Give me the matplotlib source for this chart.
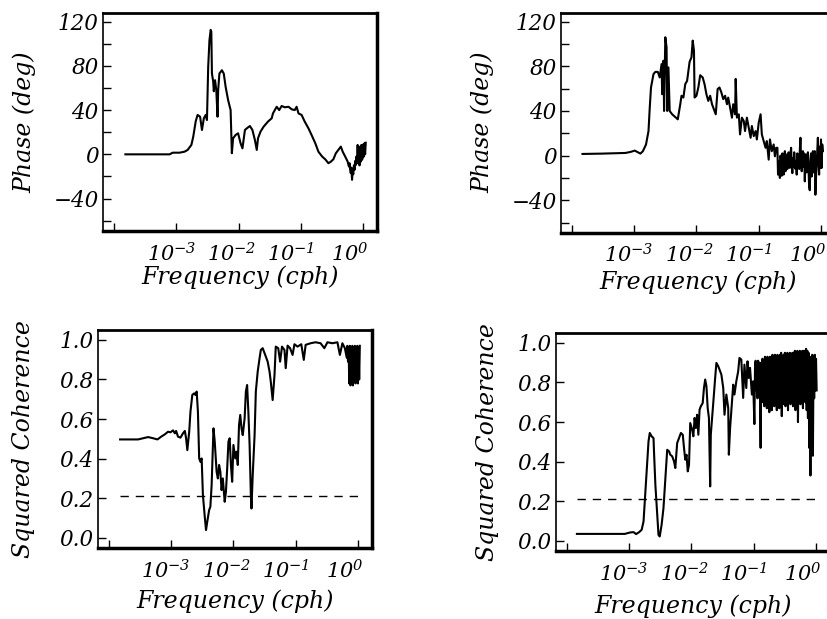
import matplotlib
matplotlib.use("Agg")
import numpy as np
import matplotlib.pyplot as plt
from matplotlib.ticker import FixedLocator, FixedFormatter, MultipleLocator, LogLocator, NullFormatter
from matplotlib.transforms import ScaledTranslation

plt.rcParams["font.family"] = "DejaVu Serif"
plt.rcParams["font.style"] = "italic"
plt.rcParams["mathtext.fontset"] = "custom"
plt.rcParams["mathtext.rm"] = "DejaVu Serif:italic"
plt.rcParams["mathtext.it"] = "DejaVu Serif:italic"

# --- data (frequency given as log10 of cph) ---
phase_a_logf = [-3.82, -3.11, -3.06, -2.95, -2.87, -2.82, -2.76, -2.73, -2.69, -2.66,
                -2.62, -2.59, -2.56, -2.53, -2.51, -2.49, -2.47, -2.45, -2.44, -2.43,
                -2.41, -2.40, -2.38, -2.36, -2.34, -2.33, -2.31, -2.27, -2.24, -2.21,
                -2.17, -2.13, -2.11, -2.09, -2.05, -2.01, -1.97, -1.94, -1.90, -1.87,
                -1.82, -1.78, -1.74, -1.71, -1.69, -1.65, -1.60, -1.53, -1.47, -1.45,
                -1.39, -1.35, -1.31, -1.26, -1.20, -1.15, -1.10, -1.07, -1.04, -0.99,
                -0.94, -0.88, -0.83, -0.77, -0.72, -0.66, -0.61, -0.56, -0.52, -0.48,
                -0.44, -0.40, -0.36, -0.33, -0.29,
                -0.25, -0.24, -0.23, -0.22, -0.21, -0.20, -0.19, -0.18, -0.17, -0.16,
                -0.15, -0.14, -0.13, -0.12, -0.11, -0.10, -0.09, -0.08, -0.07, -0.06,
                -0.05, -0.04, -0.03, -0.02, -0.01, 0.00, 0.01, 0.02, 0.03, 0.04]
phase_a = [0, 0, 1.5, 1.5, 2.4, 4, 8.5, 16, 30, 35.6,
           34, 22, 32.6, 35.6, 31, 79, 103, 112.5, 111, 73,
           66, 57, 67, 58, 34, 58, 73, 76, 73, 61,
           49, 40, 1, 14.5, 17.5, 19, 10, 5.4, 22, 23.5,
           25.6, 22, 13, 4, 14.5, 20.5, 25, 29.6, 32.6, 37,
           43, 40, 43.7, 42.5, 43, 40.7, 40, 43, 37, 35.6,
           29.6, 23.5, 17.5, 10, 2.4, -2, -4.5, -8, -6.6, -4.5,
           1, 4, 7, 2.4, -2,
           -6.6, -9, -11, -8, -14, -17, -12, -23, -15, -18,
           -10, -14, -6, -9.7, -2, -8, 8.5, -8, 7, -10,
           4, -6.6, 8.5, -5, -3.6, 9, -2, 10, 0, 10.5]

phase_b_logf = [-3.83, -3.52, -3.14, -3.06, -2.99, -2.94, -2.90, -2.86, -2.81, -2.77,
                -2.75, -2.73, -2.69, -2.66, -2.62, -2.59, -2.56, -2.55, -2.53, -2.52,
                -2.50, -2.48, -2.47, -2.45, -2.43, -2.39, -2.33, -2.30, -2.26, -2.24,
                -2.21, -2.18, -2.15, -2.11, -2.08, -2.06, -2.04, -2.03, -2.00, -1.97,
                -1.94, -1.90, -1.87, -1.84, -1.81, -1.78, -1.75, -1.72, -1.69, -1.66,
                -1.63, -1.60, -1.57, -1.54, -1.51, -1.49, -1.46, -1.43, -1.41, -1.38,
                -1.37, -1.35, -1.32, -1.30, -1.27, -1.24, -1.22, -1.19, -1.16, -1.13,
                -1.11, -1.08, -1.05, -1.03, -1.00, -0.97, -0.95, -0.92, -0.89, -0.87,
                -0.84, -0.82, -0.79, -0.76, -0.74, -0.72,
                -0.70, -0.69, -0.68, -0.67, -0.66, -0.65, -0.64, -0.63, -0.62, -0.61,
                -0.60, -0.59, -0.58, -0.57, -0.56, -0.55, -0.54, -0.53, -0.52, -0.51,
                -0.50, -0.49, -0.48, -0.47, -0.46, -0.45, -0.44, -0.43, -0.42, -0.41,
                -0.40, -0.39, -0.38, -0.37, -0.36, -0.35, -0.34, -0.33, -0.32, -0.31,
                -0.30, -0.29, -0.28, -0.27, -0.26, -0.25, -0.24, -0.23, -0.22, -0.21,
                -0.20, -0.19, -0.18, -0.17, -0.16, -0.15, -0.14, -0.13, -0.12, -0.11,
                -0.10, -0.09, -0.08, -0.07, -0.06, -0.05, -0.04, -0.03, -0.02, -0.01,
                0.00, 0.01, 0.02, 0.03]
phase_b = [1.5, 1.8, 2.4, 3.3, 4.5, 3, 1.8, 4, 10, 22,
           43, 61, 73, 75, 75, 70, 82, 55, 85, 40,
           106, 97, 40, 79, 40, 37, 34, 32.5, 46, 53.6,
           52, 64, 67, 84, 88, 103, 94, 52, 53.6, 61,
           72, 70, 64, 55, 49, 53.6, 46, 41.6, 37, 59.6,
           61, 56.6, 50.6, 53.6, 46, 52, 43, 34, 46, 37,
           68.7, 34, 37, 19, 34, 31, 22, 34, 25, 16,
           26.5, 17.5, 22, 14.5, 29.5, 37, 19, 13, 7, 13,
           -3.6, 14.5, 4, 10, -0.6, 7,
           7, -17, -5, -12, -20, 0, -8, -18, 2, -5,
           -17, -2, 4, -14, -6, 1, -12, -3, 3, -10,
           -11, 2, 7, -8, -15.7, -2, -10, 3, -5, -12,
           -5, -17, 2, -8, -0.6, -12, 5, 16, -3, -14,
           -8, 4, -10, 2, -23, -5, 1, -15, -8, 3,
           -12, -28, -31, -5, 2, -18.7, -10, 4, -15, -2,
           4, -35, -20, -8, 5, 16, -6, -17, 8, -11,
           14.5, -11, 10, 4]

coh_a_logf = [-3.82, -3.53, -3.45, -3.37, -3.29, -3.22, -3.16, -3.10, -3.05, -3.01,
              -2.97, -2.94, -2.92, -2.89, -2.85, -2.81, -2.78, -2.76, -2.74, -2.71,
              -2.69, -2.66, -2.63, -2.61, -2.59, -2.57, -2.55, -2.53, -2.51, -2.49,
              -2.46, -2.44, -2.42, -2.39, -2.37, -2.35, -2.32, -2.30, -2.27, -2.25,
              -2.23, -2.21, -2.19, -2.17, -2.14, -2.12, -2.10, -2.08, -2.06, -2.04,
              -2.02, -2.00, -1.97, -1.95, -1.93, -1.91, -1.89, -1.87, -1.85, -1.82,
              -1.80, -1.78, -1.76, -1.74, -1.72, -1.71, -1.69, -1.66, -1.64, -1.61,
              -1.58, -1.56, -1.53, -1.50, -1.48, -1.45, -1.42, -1.40, -1.37, -1.34,
              -1.32, -1.28, -1.25, -1.22, -1.18, -1.16, -1.13, -1.09, -1.05, -1.02,
              -0.97, -0.91, -0.87, -0.84, -0.76, -0.68, -0.60, -0.54, -0.49, -0.41,
              -0.33, -0.29, -0.25, -0.21,
              -0.18, -0.17, -0.16, -0.15, -0.14, -0.13, -0.12, -0.11, -0.10, -0.09,
              -0.08, -0.07, -0.06, -0.05, -0.04, -0.03, -0.02, -0.01, 0.00, 0.01,
              0.02, 0.03]
coh_a = [0.497, 0.497, 0.503, 0.509, 0.503, 0.497, 0.511, 0.523, 0.536, 0.533,
         0.543, 0.528, 0.540, 0.511, 0.506, 0.528, 0.540, 0.503, 0.443, 0.536,
         0.637, 0.722, 0.730, 0.722, 0.739, 0.637, 0.401, 0.384, 0.401, 0.216,
         0.106, 0.039, 0.081, 0.140, 0.157, 0.266, 0.553, 0.486, 0.334, 0.300,
         0.368, 0.334, 0.241, 0.300, 0.182, 0.233, 0.351, 0.486, 0.503, 0.368,
         0.283, 0.469, 0.401, 0.435, 0.368, 0.570, 0.621, 0.553, 0.519, 0.604,
         0.739, 0.772, 0.637, 0.469, 0.216, 0.148, 0.317, 0.519, 0.739, 0.840,
         0.907, 0.949, 0.958, 0.933, 0.916, 0.890, 0.840, 0.789, 0.696, 0.823,
         0.966, 0.958, 0.890, 0.966, 0.949, 0.857, 0.971, 0.958, 0.924, 0.978,
         0.966, 0.978, 0.899, 0.975, 0.983, 0.988, 0.983, 0.958, 0.988, 0.983,
         0.988, 0.924, 0.983, 0.958,
         0.91, 0.97, 0.89, 0.96, 0.78, 0.97, 0.77, 0.95, 0.86, 0.97,
         0.77, 0.96, 0.80, 0.97, 0.78, 0.96, 0.85, 0.97, 0.78, 0.96,
         0.80, 0.97]

coh_b_logf = [-3.84, -3.41, -3.07, -2.99, -2.93, -2.89, -2.84, -2.80, -2.77, -2.75,
              -2.72, -2.69, -2.67, -2.64, -2.61, -2.60, -2.58, -2.55, -2.53, -2.51,
              -2.48, -2.45, -2.43, -2.41, -2.39, -2.36, -2.34, -2.31, -2.28, -2.26,
              -2.23, -2.20, -2.17, -2.14, -2.12, -2.10, -2.08, -2.06, -2.04, -2.02,
              -1.99, -1.97, -1.95, -1.93, -1.91, -1.89, -1.87, -1.85, -1.82, -1.80,
              -1.78, -1.76, -1.74, -1.72, -1.70, -1.69, -1.66, -1.64, -1.62, -1.60,
              -1.57, -1.55, -1.52, -1.49, -1.47, -1.44, -1.41, -1.40, -1.38, -1.35,
              -1.33, -1.31, -1.28, -1.25, -1.23, -1.20, -1.17, -1.15, -1.12, -1.10,
              -1.08, -1.06, -1.03, -1.01,
              -0.99, -0.98, -0.97, -0.96, -0.95, -0.94, -0.93, -0.92, -0.91, -0.90,
              -0.89, -0.88, -0.87, -0.86, -0.85, -0.84, -0.83, -0.82, -0.81, -0.80,
              -0.79, -0.78, -0.77, -0.76, -0.75, -0.74, -0.73, -0.72, -0.71, -0.70,
              -0.69, -0.68, -0.67, -0.66, -0.65, -0.64, -0.63, -0.62, -0.61, -0.60,
              -0.59, -0.58, -0.57, -0.56, -0.55, -0.54, -0.53, -0.52, -0.51, -0.50,
              -0.49, -0.48, -0.47, -0.46, -0.45, -0.44, -0.43, -0.42, -0.41, -0.40,
              -0.39, -0.38, -0.37, -0.36, -0.35, -0.34, -0.33, -0.32, -0.31, -0.30,
              -0.29, -0.28, -0.27, -0.26, -0.25, -0.24, -0.23, -0.22, -0.21, -0.20,
              -0.19, -0.18, -0.17, -0.16, -0.15, -0.14, -0.13, -0.12, -0.11, -0.10,
              -0.09, -0.08, -0.07, -0.06, -0.05, -0.04, -0.03, -0.02, -0.01, 0.00,
              0.01]
coh_b = [0.035, 0.035, 0.035, 0.042, 0.044, 0.034, 0.044, 0.056, 0.098, 0.199,
         0.351, 0.503, 0.545, 0.528, 0.519, 0.435, 0.283, 0.132, 0.030, 0.022,
         0.081, 0.165, 0.266, 0.368, 0.460, 0.452, 0.435, 0.427, 0.401, 0.368,
         0.494, 0.519, 0.545, 0.536, 0.469, 0.410, 0.435, 0.351, 0.384, 0.595,
         0.562, 0.528, 0.621, 0.570, 0.637, 0.536, 0.663, 0.680, 0.696, 0.772,
         0.815, 0.781, 0.671, 0.621, 0.275, 0.536, 0.654, 0.739, 0.823, 0.899,
         0.882, 0.865, 0.840, 0.772, 0.637, 0.739, 0.671, 0.435, 0.570, 0.705,
         0.789, 0.739, 0.806, 0.857, 0.924, 0.916, 0.722, 0.890, 0.772, 0.907,
         0.823, 0.874, 0.739, 0.806,
         0.59, 0.87, 0.91, 0.76, 0.90, 0.72, 0.91, 0.80, 0.90, 0.74,
         0.47, 0.90, 0.70, 0.92, 0.74, 0.91, 0.68, 0.93, 0.72, 0.92,
         0.67, 0.93, 0.74, 0.92, 0.65, 0.93, 0.70, 0.92, 0.66, 0.94,
         0.71, 0.93, 0.68, 0.94, 0.73, 0.92, 0.66, 0.94, 0.70, 0.93,
         0.67, 0.94, 0.72, 0.95, 0.63, 0.93, 0.69, 0.94, 0.73, 0.95,
         0.68, 0.94, 0.74, 0.95, 0.66, 0.94, 0.71, 0.95, 0.69, 0.94,
         0.75, 0.95, 0.68, 0.95, 0.72, 0.96, 0.66, 0.95, 0.70, 0.96,
         0.60, 0.95, 0.72, 0.96, 0.69, 0.95, 0.74, 0.96, 0.67, 0.96,
         0.73, 0.96, 0.70, 0.97, 0.66, 0.96, 0.62, 0.95, 0.47, 0.93,
         0.33, 0.92, 0.45, 0.94, 0.43, 0.93, 0.72, 0.94, 0.76, 0.92,
         0.76]

sig_level = 0.21

xticks = [1e-4, 1e-3, 1e-2, 1e-1, 1e0]
xticklabels = ["", r"$10^{-3}$", r"$10^{-2}$", r"$10^{-1}$", r"$10^{0}$"]
label_shift_px = [0, -5, -7, -10, -13]

fig = plt.figure(figsize=(8.27, 6.19), dpi=100)


def style_axis(ax, ylim, ymajor, yminor, ylabel, ylab_x, xlab_y):
    ax.set_xscale("log")
    ax.set_xlim(10 ** -4.18, 10 ** 0.22)
    ax.set_ylim(*ylim)
    ax.xaxis.set_major_locator(FixedLocator(xticks))
    ax.xaxis.set_major_formatter(FixedFormatter(xticklabels))
    ax.xaxis.set_minor_locator(LogLocator(base=10, subs=np.arange(2, 10)))
    ax.xaxis.set_minor_formatter(NullFormatter())
    ax.yaxis.set_major_locator(MultipleLocator(ymajor))
    if yminor:
        ax.yaxis.set_minor_locator(MultipleLocator(yminor))
    ax.tick_params(axis="x", which="both", direction="in", top=False,
                   labelsize=15, pad=8)
    ax.tick_params(axis="x", which="major", length=6, width=1)
    ax.tick_params(axis="x", which="minor", length=5, width=1)
    ax.tick_params(axis="y", which="both", direction="in", right=False,
                   length=6, width=1, labelsize=15.5, pad=3)
    for tick, dx in zip(ax.xaxis.get_major_ticks(), label_shift_px):
        lbl = tick.label1
        lbl.set_transform(lbl.get_transform() + ScaledTranslation(dx / 100, 0, fig.dpi_scale_trans))
    ax.spines["left"].set_linewidth(1.2)
    ax.spines["top"].set_linewidth(2)
    ax.spines["right"].set_linewidth(2.5)
    ax.spines["bottom"].set_linewidth(2.5)
    ax.set_xlabel("Frequency (cph)", fontsize=17)
    ax.set_ylabel(ylabel, fontsize=17)
    ax.xaxis.set_label_coords(0.5, xlab_y)
    ax.xaxis.label.set_va("center")
    ax.yaxis.set_label_coords(ylab_x, 0.5)
    ax.yaxis.label.set_va("center")


# top left
ax1 = fig.add_axes([0.1245, 0.6273, 0.3313, 0.3522])
ax1.plot(10 ** np.array(phase_a_logf), phase_a, color="black", lw=1.5)
style_axis(ax1, (-69, 128), 40, 20, "Phase (deg)", -0.285, -0.215)

# top right
ax2 = fig.add_axes([0.678, 0.6241, 0.3313, 0.3554])
ax2.plot(10 ** np.array(phase_b_logf), phase_b, color="black", lw=1.5)
style_axis(ax2, (-69, 128), 40, 20, "Phase (deg)", -0.285, -0.225)

# bottom left
ax3 = fig.add_axes([0.1181, 0.1152, 0.3313, 0.3517])
fa = 10 ** np.array(coh_a_logf)
ax3.plot(fa, coh_a, color="black", lw=1.5)
ax3.hlines(sig_level, fa[0], fa[-1], colors="black", linestyles=(0, (6, 5)), lw=1)
style_axis(ax3, (-0.05, 1.05), 0.2, None, "Squared Coherence", -0.27, -0.245)
ax3.yaxis.set_major_formatter(plt.FuncFormatter(lambda v, p: f"{v:.1f}"))

# bottom right
ax4 = fig.add_axes([0.672, 0.1103, 0.3313, 0.3517])
fb = 10 ** np.array(coh_b_logf)
ax4.plot(fb, coh_b, color="black", lw=1.5)
ax4.hlines(sig_level, fb[0], fb[-1], colors="black", linestyles=(0, (6, 5)), lw=1)
style_axis(ax4, (-0.05, 1.05), 0.2, None, "Squared Coherence", -0.25, -0.255)
ax4.yaxis.set_major_formatter(plt.FuncFormatter(lambda v, p: f"{v:.1f}"))

fig.savefig("out.png", dpi=100)
